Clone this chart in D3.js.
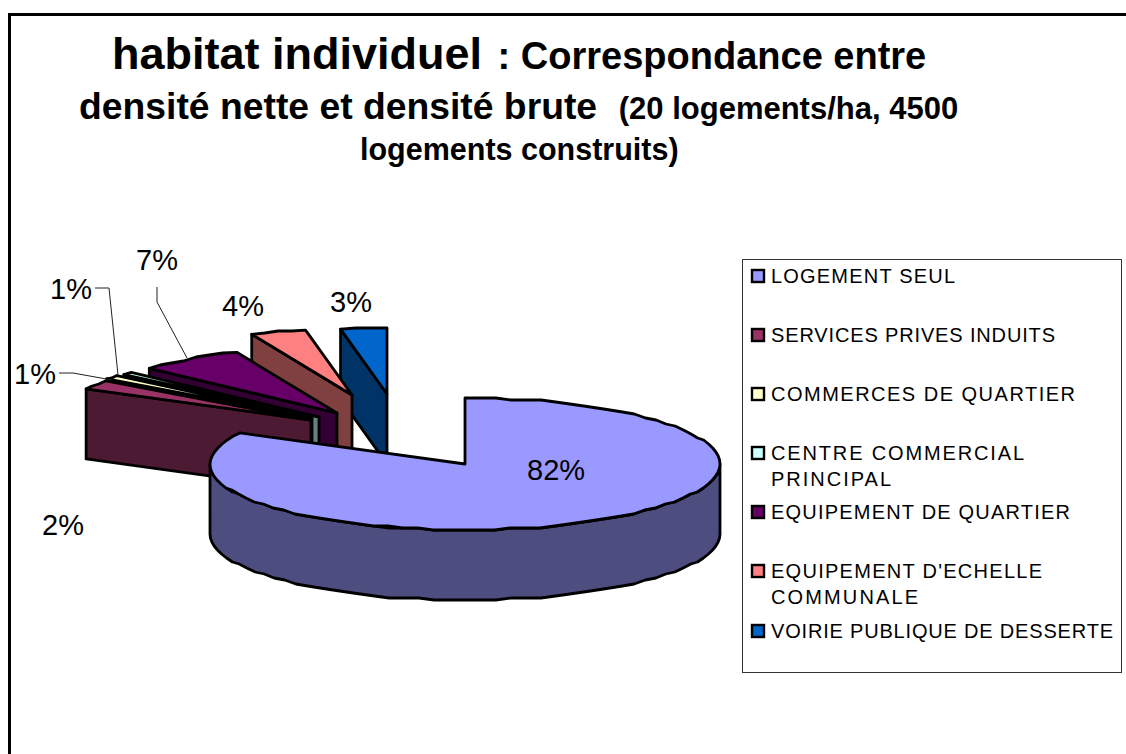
<!DOCTYPE html>
<html><head><meta charset="utf-8">
<script src="https://cdn.jsdelivr.net/npm/d3@7"></script>
<style>html,body{margin:0;padding:0;background:#fff}svg{display:block}text{font-family:"Liberation Sans",Arial,sans-serif;fill:#000}</style>
</head><body>
<svg id="c" width="1126" height="754"></svg>
<script>
// ---- data ----
const categories = ["LOGEMENT SEUL","SERVICES PRIVES INDUITS","COMMERCES DE QUARTIER","CENTRE COMMERCIAL PRINCIPAL","EQUIPEMENT DE QUARTIER","EQUIPEMENT D'ECHELLE COMMUNALE","VOIRIE PUBLIQUE DE DESSERTE"];
const values = [82.4, 2.3, 1.0, 0.7, 6.7, 3.5, 2.9];
const valueLabels = ["82%","2%","1%","1%","7%","4%","3%"];
const topColors = ["#9999FF","#993366","#FFFFCC","#CCFFFF","#660066","#FF8080","#0066CC"];
const wallColors = ["#4D4D80","#4D1A33","#808066","#668080","#330033","#804040","#003366"];

// ---- layout ----
const svg = d3.select("#c");
const cx = 465, cy = 464, rx = 255, ry = 66, depth = 70;
const explodeX = [0,-154,-153,-146,-128,-113,-78];
const explodeY = [0,-44,-46,-47,-51,-69,-70];
const labelPos = [[527,480],[42,535],[14,384],[50,299],[136,270],[222,316],[330,312]];
const leaders = [null,null,
  [[59,373],[73,373],[112,380]],
  [[95,288],[109,288],[118,375]],
  [[157,287],[157,302],[187,358]],null,null];

const x = d3.scaleLinear().domain([-1,1]).range([-rx,rx]);
const y = d3.scaleLinear().domain([-1,1]).range([ry,-ry]);
const line = d3.line();
const pie = d3.pie().sort(null).value(d=>d);
const arcs = pie(values);
const STEP = 3.5 * Math.PI/180;
const snap = v => Math.round(v/2)*2;

function rimPts(a0,a1,ox,oy){
  const n = Math.max(1,Math.ceil((a1-a0)/STEP)), p=[];
  for(let i=0;i<=n;i++){const a=a0+(a1-a0)*i/n;
    const px=ox+x(Math.sin(a));
    const end=(i===0||i===n);
    p.push([px, end?oy+y(Math.cos(a)):oy+snap(y(Math.cos(a)))]);}
  return p;
}
const strokeAttrs = s => s.attr("stroke","#000").attr("stroke-width",2.8).attr("stroke-linejoin","round");

// frame
svg.append("path").attr("d","M9.5,754V14.5H1126").attr("fill","none").attr("stroke","#000").attr("stroke-width",3);

// title
const title = svg.append("g");
function tl(xp,yp,parts){const t=title.append("text").attr("x",xp).attr("y",yp);
  parts.forEach(([s,fs,dx])=>t.append("tspan").attr("font-size",fs).attr("font-weight","bold").attr("dx",dx||0).text(s));}
tl(112,69,[["habitat individuel",45],[" : Correspondance entre",38,5]]);
tl(79,119,[["densité nette et densité brute",37.3],["  (20 logements/ha, 4500",31,13]]);
tl(360,160,[["logements construits)",30.5]]);

// slices, back to front
const order = [6,5,4,3,2,1];
order.forEach(i=>{
  const a=arcs[i], ox=cx+explodeX[i], oy=cy+explodeY[i];
  const rim=rimPts(a.startAngle,a.endAngle,ox,oy);
  const s=rim[0];
  const g=svg.append("g");
  g.append("path").attr("d",line([[ox,oy],s,[s[0],s[1]+depth],[ox,oy+depth]])+"Z").attr("fill",wallColors[i]).call(strokeAttrs);
  g.append("path").attr("d",line([[ox,oy],...rim])+"Z").attr("fill",topColors[i]).call(strokeAttrs);
});
// main slice
{
  const a=arcs[0];
  const front=rimPts(Math.PI/2,3*Math.PI/2,cx,cy);
  svg.append("path").attr("d",line([...front,...front.slice().reverse().map(p=>[p[0],p[1]+depth])])+"Z").attr("fill",wallColors[0]).call(strokeAttrs);
  svg.append("path").attr("d",line([[cx,cy],...rimPts(a.startAngle,a.endAngle,cx,cy)])+"Z").attr("fill",topColors[0]).call(strokeAttrs);
}

// leaders
leaders.forEach(l=>{ if(l) svg.append("path").attr("d",line(l)).attr("fill","none").attr("stroke","#222").attr("stroke-width",1); });

// value labels
valueLabels.forEach((t,i)=>svg.append("text").attr("x",labelPos[i][0]).attr("y",labelPos[i][1]).attr("font-size",29).text(t));

// legend
svg.append("rect").attr("x",742.5).attr("y",259.5).attr("width",379).attr("height",413).attr("fill","#fff").attr("stroke","#333").attr("stroke-width",1);
const legendLines = [["LOGEMENT SEUL"],["SERVICES PRIVES INDUITS"],["COMMERCES DE QUARTIER"],["CENTRE COMMERCIAL","PRINCIPAL"],["EQUIPEMENT DE QUARTIER"],["EQUIPEMENT D'ECHELLE","COMMUNALE"],["VOIRIE PUBLIQUE DE DESSERTE"]];
const legendLen = [[184],[284],[304],[253,120],[299],[271,147],[342]];
const legendY = [283,342,401,460,519,578,638];
categories.forEach((c,i)=>{
  svg.append("rect").attr("x",752).attr("y",legendY[i]-13).attr("width",12).attr("height",12).attr("fill",topColors[i]).attr("stroke","#000").attr("stroke-width",2.4);
  legendLines[i].forEach((l,j)=>svg.append("text").attr("x",771).attr("y",legendY[i]+j*26).attr("font-size",20).attr("textLength",legendLen[i][j]).attr("lengthAdjust","spacing").text(l));
});
</script>
</body></html>
